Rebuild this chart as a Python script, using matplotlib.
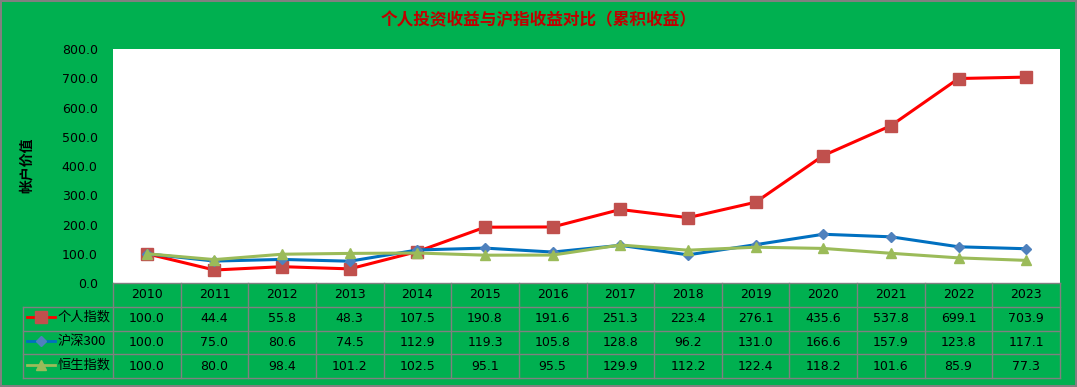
import numpy as np
import matplotlib.pyplot as plt

plt.rcParams['font.family'] = ['Noto Sans CJK SC', 'DejaVu Sans']

# 数据
years = [2010, 2011, 2012, 2013, 2014, 2015, 2016, 2017, 2018, 2019, 2020, 2021, 2022, 2023]
geren = [100.0, 44.4, 55.8, 48.3, 107.5, 190.8, 191.6, 251.3, 223.4, 276.1, 435.6, 537.8, 699.1, 703.9]
hs300 = [100.0, 75.0, 80.6, 74.5, 112.9, 119.3, 105.8, 128.8, 96.2, 131.0, 166.6, 157.9, 123.8, 117.1]
hengsheng = [100.0, 80.0, 98.4, 101.2, 102.5, 95.1, 95.5, 129.9, 112.2, 122.4, 118.2, 101.6, 85.9, 77.3]
noms = ['个人指数', '沪深300', '恒生指数']

W, H = 1077, 387
bg = '#00B050'
fig = plt.figure(figsize=(W / 100, H / 100), dpi=100)
fig.patch.set_facecolor(bg)
fig.patch.set_edgecolor('#808080')
fig.patch.set_linewidth(1.5)

# zone du graphe (en pixels)
x0, x1 = 113, 1060
ytop, ybot = 49, 283
ax = fig.add_axes([x0 / W, 1 - ybot / H, (x1 - x0) / W, (ybot - ytop) / H])
ax.set_facecolor('white')
for s in ax.spines.values():
    s.set_visible(False)

x = np.arange(len(years))
series = [
    (geren, '#FF0000', 's', '#C0504D', 8),
    (hs300, '#0070C0', 'D', '#4F81BD', 5),
    (hengsheng, '#9BBB59', '^', '#9BBB59', 7),
]
for vals, c, m, mc, ms in series:
    ax.plot(x, vals, color=c, lw=2.2, marker=m, ms=ms, mfc=mc, mec=mc)

ax.set_xlim(-0.5, len(years) - 0.5)
ax.set_ylim(0, 800)
ax.set_yticks(np.arange(0, 801, 100))
ax.set_yticklabels(['%.1f' % v for v in np.arange(0, 801, 100)], fontsize=9, family='DejaVu Sans')
ax.tick_params(axis='y', length=0, pad=11)
ax.set_xticks([])

fig.text(27 / W, 1 - 165 / H, '帐户价值', fontsize=10, fontweight='bold',
         rotation=90, ha='center', va='center')
fig.text(0.5, 1 - 20 / H, '个人投资收益与沪指收益对比（累积收益）', color='#C00000',
         fontsize=12, fontweight='bold', ha='center', va='center')

# tableau de données
tbot = 378
tab = fig.add_axes([x0 / W, 1 - tbot / H, (x1 - x0) / W, (tbot - ybot) / H])
tab.patch.set_alpha(0)
tab.set_xlim(-0.5, len(years) - 0.5)
tab.set_ylim(4, 0)
tab.axis('off')
lc = '#808080'
colw = (x1 - x0) / len(years)
xleft = -0.5 - (x0 - 23) / colw

# lignes horizontales
tab.plot([-0.5, len(years) - 0.5], [0, 0], color=lc, lw=1, clip_on=False)
for r in [1, 2, 3, 4]:
    tab.plot([xleft, len(years) - 0.5], [r, r], color=lc, lw=1, clip_on=False)
# lignes verticales
for i in range(len(years) + 1):
    tab.plot([i - 0.5, i - 0.5], [0, 4], color=lc, lw=1, clip_on=False)
tab.plot([xleft, xleft], [1, 4], color=lc, lw=1, clip_on=False)

for i, yv in enumerate(years):
    tab.text(i, 0.5, str(yv), ha='center', va='center', fontsize=9, family='DejaVu Sans')
for r, (vals, c, m, mc, ms) in enumerate(series):
    for i, v in enumerate(vals):
        tab.text(i, r + 1.5, '%.1f' % v, ha='center', va='center', fontsize=9, family='DejaVu Sans')
    lx = xleft + 4 / colw
    tab.plot([lx, lx + 28 / colw], [r + 1.45, r + 1.45], color=c, lw=2, clip_on=False)
    tab.plot([lx + 14 / colw], [r + 1.45], marker=m, ms=ms, mfc=mc, mec=mc, clip_on=False)
    tab.text(lx + 31 / colw, r + 1.45, noms[r], ha='left', va='center', fontsize=9.5)

fig.savefig('out.png', dpi=100, facecolor=bg, edgecolor='#808080')
